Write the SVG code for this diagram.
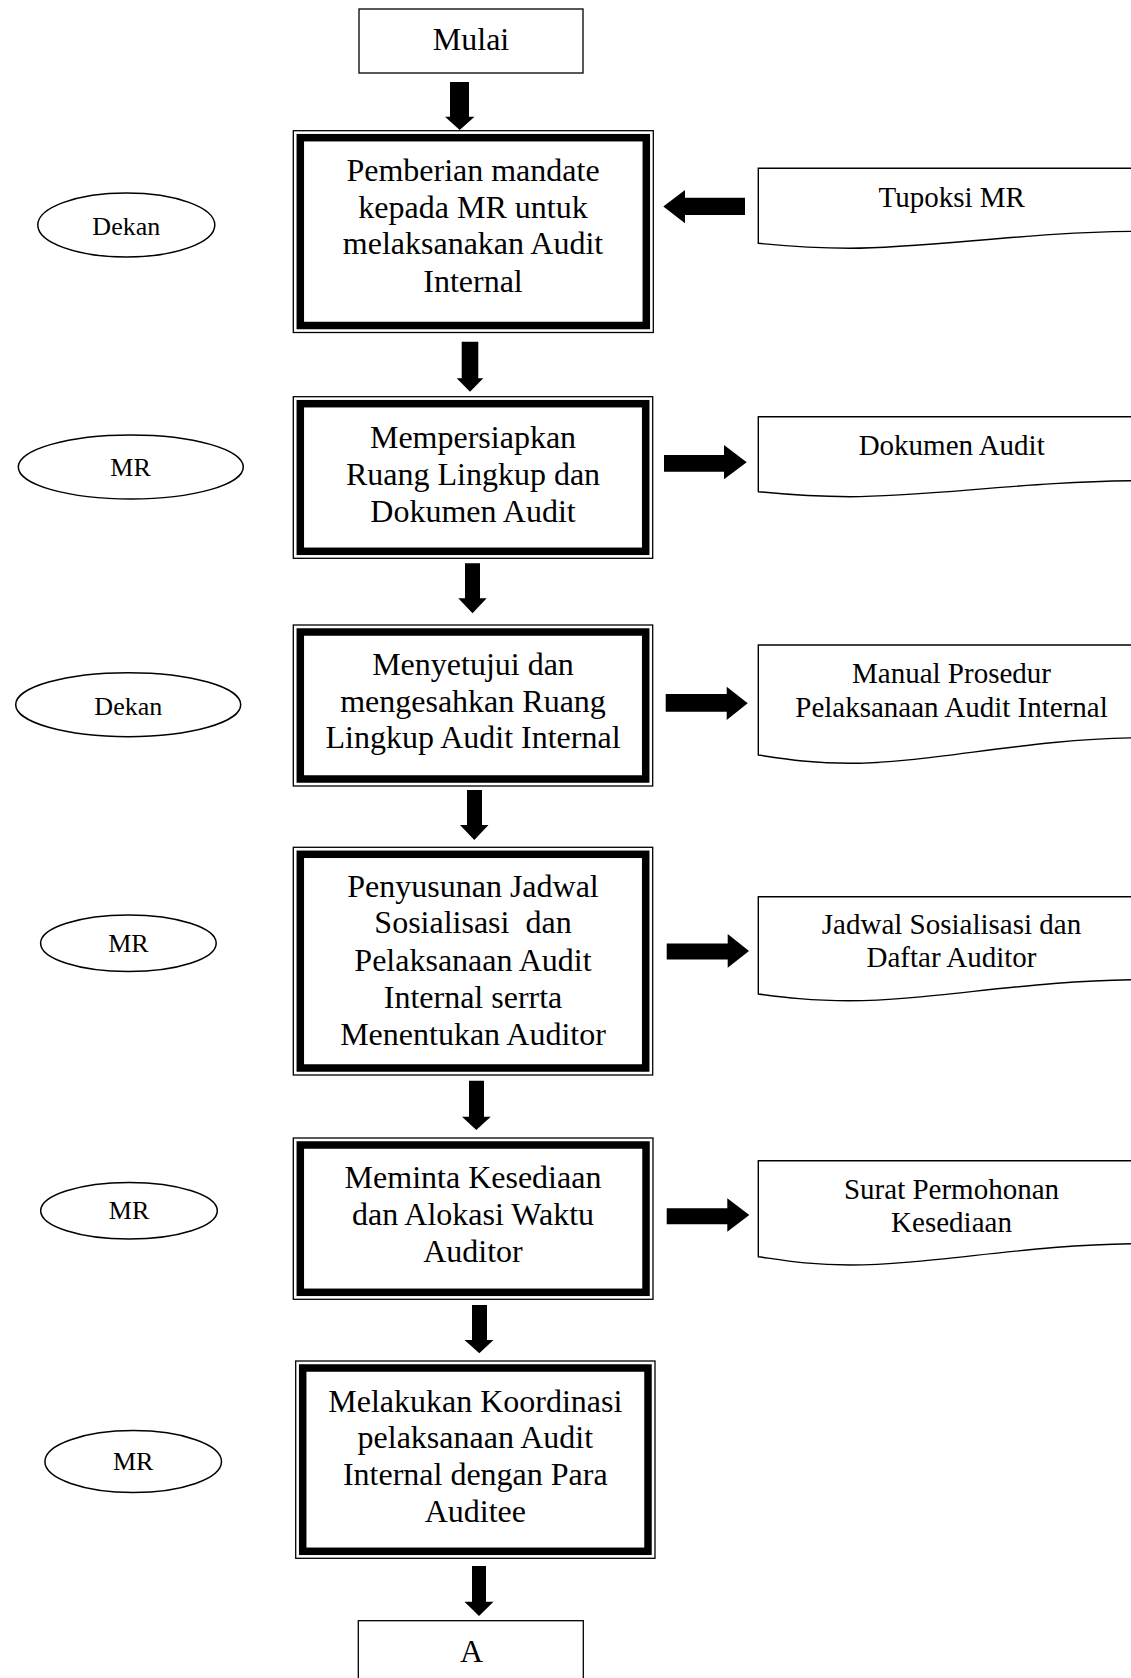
<svg xmlns="http://www.w3.org/2000/svg" width="1131" height="1678" viewBox="0 0 1131 1678">
<style>
.bg{fill:#fff}
.term{fill:#fff;stroke:#000;stroke-width:1.3}
.outer{fill:#fff;stroke:#000;stroke-width:1.3}
.inner{fill:none;stroke:#000;stroke-width:7.5}
.ell{fill:#fff;stroke:#000;stroke-width:1.5}
.doc{fill:#fff;stroke:#000;stroke-width:1.4}
.arr{fill:#000;stroke:none}
text{font-family:"Liberation Serif","Times New Roman",serif;fill:#000;text-anchor:middle}
.t32{font-size:32px}
.t29{font-size:29px}
.t26{font-size:26px}
</style>
<rect class="bg" x="0" y="0" width="1131" height="1678"/>

<g id="connectors">
  <polygon class="arr" points="450,82 469,82 469,116.7 474.5,116.7 459.7,130 445,116.7 450,116.7"/>
  <polygon class="arr" points="461.7,341.7 478.3,341.7 478.3,378.3 483.3,378.3 470,391.7 456.7,378.3 461.7,378.3"/>
  <polygon class="arr" points="465,563.3 480,563.3 480,598.3 486.7,598.3 472.5,613.3 458.3,598.3 465,598.3"/>
  <polygon class="arr" points="467,790 482,790 482,825 488.5,825 474.3,840 460,825 467,825"/>
  <polygon class="arr" points="469,1080.7 484,1080.7 484,1116.7 490.7,1116.7 476.3,1130 462,1116.7 469,1116.7"/>
  <polygon class="arr" points="472,1305 487,1305 487,1340 493.5,1340 479.3,1353.3 464.5,1340 472,1340"/>
  <polygon class="arr" points="472,1566 486,1566 486,1601.7 493.5,1601.7 479,1616 464.5,1601.7 472,1601.7"/>
  <polygon class="arr" points="745,197.7 745,215 685,215 685,223.3 663.3,206.5 685,190 685,197.7"/>
  <polygon class="arr" points="664,455 724,455 724,445 746.7,462.2 724,479.3 724,471.7 664,471.7"/>
  <polygon class="arr" points="665.7,694 726.7,694 726.7,686.7 747.7,703.3 726.7,720 726.7,711.7 665.7,711.7"/>
  <polygon class="arr" points="666.7,943.5 727.7,943.5 727.7,934 749,951 727.7,967.7 727.7,959.5 666.7,959.5"/>
  <polygon class="arr" points="666.7,1208.3 727.3,1208.3 727.3,1198.3 749.3,1215 727.3,1231.7 727.3,1224.3 666.7,1224.3"/>
</g>

<g id="mulai">
  <rect class="term" x="359" y="9" width="224" height="64"/>
  <text class="t32" x="471" y="50">Mulai</text>
</g>

<g id="box1">
  <rect class="outer" x="293.3" y="130.7" width="360" height="201.8"/>
  <rect class="inner" x="300.3" y="137.7" width="346" height="187.8"/>
  <text class="t32" x="473" y="181">Pemberian mandate</text>
  <text class="t32" x="473" y="217.5">kepada MR untuk</text>
  <text class="t32" x="473" y="254.3">melaksanakan Audit</text>
  <text class="t32" x="473" y="291.5">Internal</text>
</g>

<g id="box2">
  <rect class="outer" x="293.3" y="396.7" width="359.4" height="161.6"/>
  <rect class="inner" x="300.3" y="403.7" width="345.4" height="147.6"/>
  <text class="t32" x="473" y="448.3">Mempersiapkan</text>
  <text class="t32" x="473" y="485">Ruang Lingkup dan</text>
  <text class="t32" x="473" y="521.7">Dokumen Audit</text>
</g>

<g id="box3">
  <rect class="outer" x="293.3" y="625" width="359.4" height="161"/>
  <rect class="inner" x="300.3" y="632" width="345.4" height="147"/>
  <text class="t32" x="473" y="675">Menyetujui dan</text>
  <text class="t32" x="473" y="711.7">mengesahkan Ruang</text>
  <text class="t32" x="473" y="748.3">Lingkup Audit Internal</text>
</g>

<g id="box4">
  <rect class="outer" x="293.3" y="847.3" width="359.4" height="227.7"/>
  <rect class="inner" x="300.3" y="854.3" width="345.4" height="213.7"/>
  <text class="t32" x="473" y="896.7">Penyusunan Jadwal</text>
  <text class="t32" x="473" y="933.3" xml:space="preserve">Sosialisasi  dan</text>
  <text class="t32" x="473" y="971">Pelaksanaan Audit</text>
  <text class="t32" x="473" y="1008.3">Internal serrta</text>
  <text class="t32" x="473" y="1045">Menentukan Auditor</text>
</g>

<g id="box5">
  <rect class="outer" x="293.3" y="1138" width="359.7" height="161.3"/>
  <rect class="inner" x="300.3" y="1145" width="345.7" height="147.3"/>
  <text class="t32" x="473" y="1188.3">Meminta Kesediaan</text>
  <text class="t32" x="473" y="1225">dan Alokasi Waktu</text>
  <text class="t32" x="473" y="1261.7">Auditor</text>
</g>

<g id="box6">
  <rect class="outer" x="295.7" y="1361" width="359.3" height="197.3"/>
  <rect class="inner" x="302.7" y="1368" width="345.3" height="183.3"/>
  <text class="t32" x="475.3" y="1411.7">Melakukan Koordinasi</text>
  <text class="t32" x="475.3" y="1448.3">pelaksanaan Audit</text>
  <text class="t32" x="475.3" y="1485">Internal dengan Para</text>
  <text class="t32" x="475.3" y="1521.7">Auditee</text>
</g>

<g id="a">
  <rect class="term" x="358.3" y="1620.7" width="225" height="70"/>
  <text class="t32" x="471.5" y="1661.7">A</text>
</g>

<g id="ell-dekan1">
  <ellipse class="ell" cx="126.3" cy="225" rx="88.5" ry="32"/>
  <text class="t26" x="126.3" y="234.5">Dekan</text>
</g>
<g id="ell-mr1">
  <ellipse class="ell" cx="130.8" cy="467" rx="112.5" ry="32"/>
  <text class="t26" x="130.5" y="475.7">MR</text>
</g>
<g id="ell-dekan2">
  <ellipse class="ell" cx="128.2" cy="704.7" rx="112.5" ry="32"/>
  <text class="t26" x="128.3" y="714.7">Dekan</text>
</g>
<g id="ell-mr2">
  <ellipse class="ell" cx="128.4" cy="943.2" rx="87.8" ry="28.3"/>
  <text class="t26" x="128.4" y="951.8">MR</text>
</g>
<g id="ell-mr3">
  <ellipse class="ell" cx="129" cy="1210.7" rx="88.3" ry="28.3"/>
  <text class="t26" x="129" y="1219.3">MR</text>
</g>
<g id="ell-mr4">
  <ellipse class="ell" cx="133.2" cy="1461.6" rx="88.3" ry="31"/>
  <text class="t26" x="133.2" y="1470.3">MR</text>
</g>

<g id="doc-tupoksi">
  <path class="doc" d="M758.3,168.3 H1140 V231.3 C1030,231.5 930,248.3 850,248.3 C810,248.3 785,246 758.3,243.3 Z"/>
  <text class="t29" x="951.7" y="206.7">Tupoksi MR</text>
</g>
<g id="doc-dokumen">
  <path class="doc" d="M758.3,416.7 H1140 V480.7 C1030,481 930,496.7 850,496.7 C810,496.7 785,494.4 758.3,491.7 Z"/>
  <text class="t29" x="951.7" y="455">Dokumen Audit</text>
</g>
<g id="doc-manual">
  <path class="doc" d="M758.3,645 H1140 V737.8 C1030,738.2 930,763.3 850,763.3 C810,763.3 785,759 758.3,755 Z"/>
  <text class="t29" x="951.5" y="683.3">Manual Prosedur</text>
  <text class="t29" x="951.5" y="716.7">Pelaksanaan Audit Internal</text>
</g>
<g id="doc-jadwal">
  <path class="doc" d="M758.3,896.7 H1140 V979.6 C1030,980 930,1000.7 850,1000.7 C810,1000.7 785,997.5 758.3,994 Z"/>
  <text class="t29" x="951.5" y="934">Jadwal Sosialisasi dan</text>
  <text class="t29" x="951.5" y="966.7">Daftar Auditor</text>
</g>
<g id="doc-surat">
  <path class="doc" d="M758.3,1160.7 H1140 V1243.6 C1030,1244 930,1265 850,1265 C810,1265 785,1260.5 758.3,1256.7 Z"/>
  <text class="t29" x="951.5" y="1198.5">Surat Permohonan</text>
  <text class="t29" x="951.5" y="1231.7">Kesediaan</text>
</g>
</svg>
